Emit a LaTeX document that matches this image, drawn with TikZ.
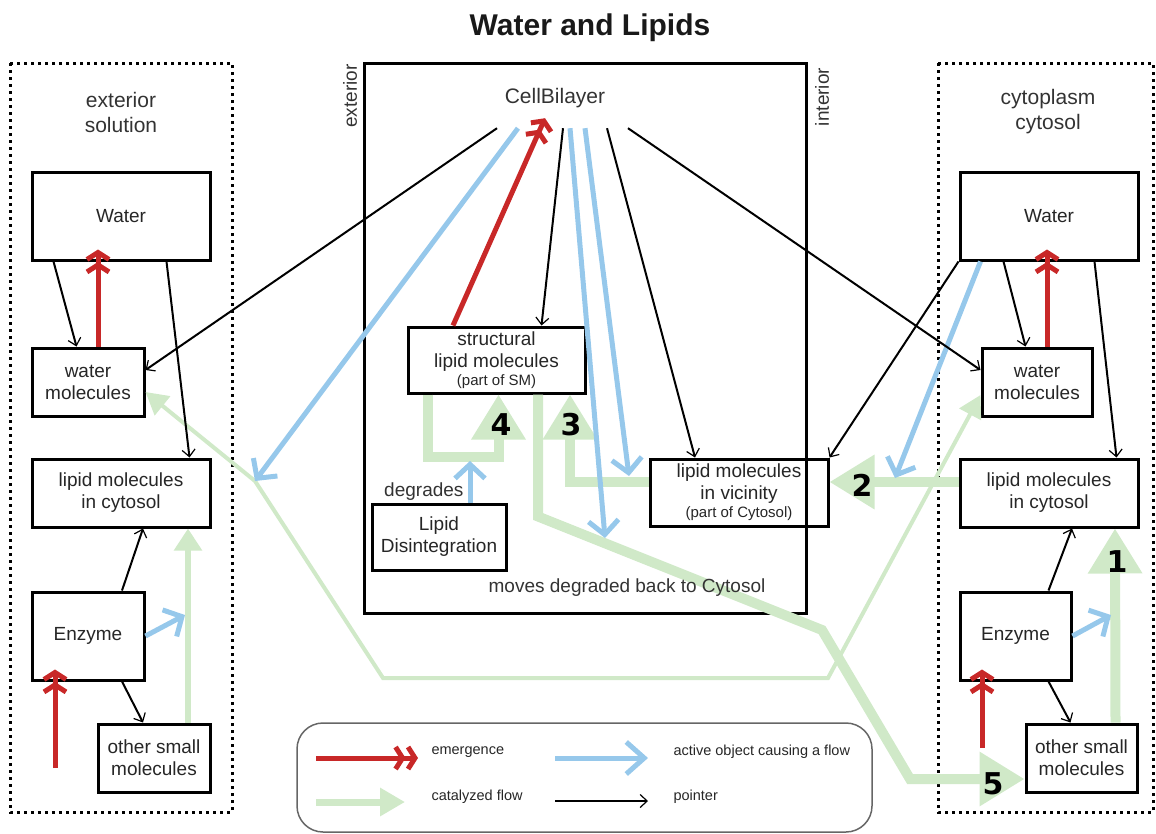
\documentclass[tikz,border=0pt]{standalone}
\usepackage{fontspec}
\setmainfont{Liberation Sans}
\newfontfamily\numfont{DejaVu Sans}
\usepackage{xcolor}
\usepackage{tikz}
\usetikzlibrary{arrows.meta}

\definecolor{emred}{RGB}{200,40,40}
\definecolor{actblue}{RGB}{150,200,235}
\definecolor{catgreen}{RGB}{208,233,200}

\begin{document}
\begin{tikzpicture}[x=1pt,y=-1pt,
	box/.style={draw,line width=3pt,inner sep=0pt,align=center,text=black!85,font=\fontsize{19}{22}\selectfont},
	label/.style={text=black!80,font=\fontsize{19}{22}\selectfont},
	legend/.style={anchor=west,text=black!85,font=\fontsize{14.5}{16}\selectfont},
	num/.style={font=\numfont\fontsize{30}{30}\bfseries\selectfont},
	region/.style={dash pattern=on 3pt off 4pt,line width=3pt},
	pointer/.style={line width=2pt,-{Straight Barb[length=7pt,width=13pt,line width=1.2pt]}},
	emerge/.style={emred,line width=5pt,-{Straight Barb[length=7pt,width=22pt]Straight Barb[length=7pt,width=22pt]}},
	active/.style={actblue,line width=5pt,-{Straight Barb[length=14pt,width=30pt]}},
	catflow/.style={catgreen,line width=6pt,-{Triangle[length=22pt,width=27pt]}},
	bigflow/.style={catgreen,line width=10pt,-{Triangle[length=45pt,width=52pt]}}]
	\useasboundingbox (0,0) rectangle (1156,833);

	\node[font=\fontsize{30}{30}\bfseries\selectfont,text=black!90] (title) at (590,28) {Water and Lipids};

	% compartments
	\draw[region] (10,63) rectangle (232,812);
	\draw[region] (938,63) rectangle (1153,812);
	\draw[line width=3pt] (364,63) rectangle (806,613);
	\node[label,align=center,font=\fontsize{21}{25}\selectfont] (extsol) at (121,112) {exterior\\solution};
	\node[label,align=center,font=\fontsize{21}{25}\selectfont] (cytsol) at (1048,112) {cytoplasm\\cytosol};
	\node[label,rotate=90] (extlab) at (350,96) {exterior};
	\node[label,rotate=90] (intlab) at (822,97) {interior};
	\node[label,minimum height=60pt,font=\fontsize{21}{21}\selectfont] (cell) at (555,98) {CellBilayer};

	% exterior solution
	\node[box,minimum width=178pt,minimum height=88pt] (lwater) at (121,216) {Water};
	\node[box,minimum width=112pt,minimum height=68pt] (lwmol) at (88,382) {water\\molecules};
	\node[box,minimum width=178pt,minimum height=68pt] (llip) at (121,493) {lipid molecules\\in cytosol};
	\node[box,minimum width=112pt,minimum height=88pt] (lenz) at (88,636) {Enzyme};
	\node[box,minimum width=112pt,minimum height=68pt] (lsmall) at (154,758) {other small\\molecules};

	% cytosol
	\node[box,minimum width=178pt,minimum height=88pt] (rwater) at (1049,216) {Water};
	\node[box,minimum width=110pt,minimum height=68pt] (rwmol) at (1037,382) {water\\molecules};
	\node[box,minimum width=178pt,minimum height=68pt] (rlip) at (1049,493) {lipid molecules\\in cytosol};
	\node[box,minimum width=111pt,minimum height=88pt] (renz) at (1015.5,636) {Enzyme};
	\node[box,minimum width=111pt,minimum height=68pt] (rsmall) at (1081.5,758) {other small\\molecules};

	% bilayer
	\node[box,minimum width=177pt,minimum height=66pt] (struct) at (496.5,360) {structural\\lipid molecules\\[-4pt]{\fontsize{15}{16}\selectfont(part of SM)}};
	\node[box,minimum width=134pt,minimum height=66pt] (disint) at (439,537) {Lipid\\Disintegration};
	\node[box,minimum width=178pt,minimum height=67pt] (vicin) at (739,492.5) {lipid molecules\\in vicinity\\[-4pt]{\fontsize{15}{16}\selectfont(part of Cytosol)}};
	\node[label,anchor=east] (degr) at (467,492) {degrades};

	\coordinate (lhit) at (255,481);
	\coordinate (lbend) at (383,678);
	\coordinate (rbend) at (828,678);
	\coordinate (mbend) at (822,630);
	\coordinate (mlow) at (910,779);
	\coordinate (mhit) at (605,538);
	\coordinate (vhit) at (629,476);
	\coordinate (rhit) at (895,478);
	\coordinate (dhit) at (470,461);
	\coordinate (lcat) at (185,615);
	\coordinate (rcat) at (1111,615);
	\coordinate (lsrc) at (55,768);
	\coordinate (rsrc) at (982,748);

	% catalyzed flows
	\draw[catgreen,line width=4pt,{Triangle[length=22pt,width=24pt]}-{Triangle[length=22pt,width=24pt]}] ([yshift=-10pt]lwmol.east) -- (lhit) -- (lbend) -- (rbend) -- ([yshift=-13pt]rwmol.west);
	\draw[catflow] ([xshift=34pt]lsmall.north) -- ([xshift=67pt]llip.south);
	\draw[bigflow] ([xshift=34pt]rsmall.north) -- ([xshift=66pt]rlip.south);
	\draw[bigflow] ([yshift=11pt]rlip.west) -- ([yshift=10.5pt]vicin.east);
	\draw[bigflow] ([yshift=10.5pt]vicin.west) -| ([xshift=73.5pt]struct.south);
	\draw[bigflow] ([xshift=-68.5pt]struct.south) -- ++(0,62) -| ([xshift=2pt]struct.south);
	\draw[bigflow] ([xshift=41.5pt]struct.south) -- ++(0,122) -- (mbend) -- (mlow) -- ([yshift=-21pt]rsmall.west);
	\node[num] (n1) at (1117,562) {1};
	\node[num] (n2) at (862,485) {2};
	\node[num] (n3) at (571,425) {3};
	\node[num] (n4) at (501,425) {4};
	\node[num] (n5) at (993,784) {5};
	\node[label] (moves) at (627,588) {moves degraded back to Cytosol};

	% active objects
	\draw[active] ([xshift=-37pt]cell.south) -- (lhit);
	\draw[active] ([xshift=15pt]cell.south) -- (mhit);
	\draw[active] ([xshift=30pt]cell.south) -- (vhit);
	\draw[active] ([xshift=22pt]rwater.south west) -- (rhit);
	\draw[active] (lenz.east) -- (lcat);
	\draw[active] (renz.east) -- (rcat);
	\draw[active] ([xshift=31pt]disint.north) -- (dhit);

	% pointers
	\draw[pointer] ([xshift=23pt]lwater.south west) -- ([xshift=46pt]lwmol.north west);
	\draw[pointer] ([xshift=-45pt]lwater.south east) -- ([xshift=-22pt]llip.north east);
	\draw[pointer] ([xshift=34pt]lenz.north) -- ([xshift=22pt]llip.south);
	\draw[pointer] ([xshift=34pt]lenz.south) -- ([xshift=-11pt]lsmall.north);
	\draw[pointer] ([xshift=45pt]rwater.south west) -- ([xshift=45pt]rwmol.north west);
	\draw[pointer] ([xshift=-45pt]rwater.south east) -- ([xshift=-23pt]rlip.north east);
	\draw[pointer] ([xshift=33pt]renz.north) -- ([xshift=23pt]rlip.south);
	\draw[pointer] ([xshift=33pt]renz.south) -- ([xshift=-11pt]rsmall.north);
	\draw[pointer] (rwater.south west) -- (vicin.north east);
	\draw[pointer] ([xshift=-58pt]cell.south) -- ([yshift=12pt]lwmol.east);
	\draw[pointer] ([xshift=8pt]cell.south) -- ([xshift=45pt]struct.north);
	\draw[pointer] ([xshift=52pt]cell.south) -- ([xshift=-44pt]vicin.north);
	\draw[pointer] ([xshift=73pt]cell.south) -- ([yshift=12pt]rwmol.west);

	% emergence
	\draw[emerge] ([xshift=10pt]lwmol.north) -- ([xshift=-23pt,yshift=12pt]lwater.south);
	\draw[emerge] (lsrc) -- ([xshift=-33pt,yshift=12pt]lenz.south);
	\draw[emerge] ([xshift=10pt]rwmol.north) -- ([xshift=-2pt,yshift=12pt]rwater.south);
	\draw[emerge] (rsrc) -- ([xshift=-33.5pt,yshift=12pt]renz.south);
	\draw[emerge] ([xshift=-43.5pt]struct.north) -- ([xshift=-10pt,yshift=10pt]cell.south);

	% legend
	\draw[black!60,line width=1.5pt,rounded corners=26pt] (297,723) rectangle (872,832);
	\draw[emerge] (316,758) -- (418,758);
	\node[legend] (lgem) at (428,752) {emergence};
	\draw[catgreen,line width=7pt,-{Triangle[length=25pt,width=27pt]}] (316,802) -- (405,802);
	\node[legend] (lgcat) at (428,797) {catalyzed flow};
	\draw[active,-{Straight Barb[length=18pt,width=32pt]}] (555,758) -- (648,758);
	\node[legend] (lgact) at (670,752) {active object causing a flow};
	\draw[pointer] (555,801) -- (648,801);
	\node[legend] (lgptr) at (670,797) {pointer};
\end{tikzpicture}
\end{document}
